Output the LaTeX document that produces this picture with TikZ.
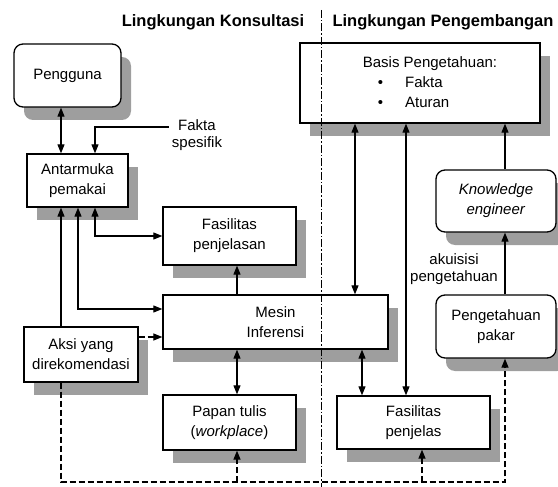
\documentclass[tikz,border=0pt]{standalone}
\usepackage{fontspec}
\setmainfont{Liberation Sans}
\usetikzlibrary{arrows.meta,shadows}

\tikzset{
  kotak/.style={draw, line width=1.3pt, fill=white, align=center, inner sep=0pt,
    font=\fontsize{15}{20}\selectfont,
    drop shadow={shadow xshift=10pt, shadow yshift=-13pt, fill=black!38, opacity=1}},
  bulat/.style={kotak, rounded corners=9pt},
  teks/.style={align=center, inner sep=3pt, font=\fontsize{15}{17}\selectfont},
  judul/.style={font=\bfseries\fontsize{16.5}{19}\selectfont, inner sep=0pt},
  panah/.style={line width=1.1pt, -{Triangle[length=9pt,width=7pt]}},
  panah2/.style={line width=1.1pt, {Triangle[length=9pt,width=7pt]}-{Triangle[length=9pt,width=7pt]}},
  putus/.style={line width=1.2pt, dash pattern=on 6pt off 3pt},
  pemisah/.style={line width=1pt, dash pattern=on 8pt off 2pt on 1.5pt off 2pt}
}

\begin{document}
\begin{tikzpicture}[x=1pt,y=-1pt]
\useasboundingbox (0,0) rectangle (558,487);

\node[judul] (konsul) at (213,22) {Lingkungan Konsultasi};
\node[judul] (kembang) at (443,22) {Lingkungan Pengembangan};

% lingkungan konsultasi
\node[bulat, minimum width=107pt, minimum height=63pt] (pengguna) at (67.5,75.5) {Pengguna};
\node[kotak, minimum width=101pt, minimum height=53pt] (antar) at (77.5,180.5) {Antarmuka\\pemakai};
\node[kotak, minimum width=133pt, minimum height=58pt] (fpj) at (229.5,236) {Fasilitas\\penjelasan};
\node[kotak, minimum width=225pt, minimum height=54pt] (mesin) at (275.5,322) {Mesin\\Inferensi};
\node[kotak, minimum width=114pt, minimum height=55pt] (aksi) at (81,354.5) {Aksi yang\\direkomendasi};
\node[kotak, minimum width=133pt, minimum height=55pt] (papan) at (229.5,422.5) {Papan tulis\\(\textit{workplace})};
\node[teks] (fakta) at (197,135) {Fakta\\spesifik};

% lingkungan pengembangan
\node[kotak, minimum width=240pt, minimum height=80pt] (basis) at (420,83) {};
\node[inner sep=0pt, align=left, font=\fontsize{15}{20}\selectfont] (isi) at (430,82)
  {Basis Pengetahuan:\\\hspace{15pt}\textbullet\hspace{22pt}Fakta\\\hspace{15pt}\textbullet\hspace{22pt}Aturan};
\node[bulat, minimum width=120pt, minimum height=62pt] (ke) at (496,201) {\textit{Knowledge}\\\textit{engineer}};
\node[bulat, minimum width=120pt, minimum height=63pt] (pakar) at (496,326.5) {Pengetahuan\\pakar};
\node[kotak, minimum width=153pt, minimum height=53pt] (fpl) at (413.5,422.5) {Fasilitas\\penjelas};
\node[teks] (akuisisi) at (454,269) {akuisisi\\pengetahuan};

\coordinate (sudut) at (505,482);

\draw[panah2] (pengguna.south -| 61,0) -- (antar.north -| 61,0);
\draw[panah] (fakta.west |- 0,127) -| (antar.north -| 95,0);
\draw[panah2] (antar.south -| 95,0) |- (fpj.west);
\draw[panah2] (antar.south -| 78,0) |- (mesin.west |- 0,309);
\draw[panah] (aksi.north -| 61,0) -- (antar.south -| 61,0);
\draw[panah,putus] (aksi.east |- 0,337) -- (mesin.west |- 0,337);
\draw[panah] (mesin.north -| 237,0) -- (fpj.south -| 237,0);
\draw[panah2] (mesin.south -| 237,0) -- (papan.north -| 237,0);
\draw[panah2] (mesin.north -| 355,0) -- (basis.south -| 355,0);
\draw[panah2] (mesin.south -| 362,0) -- (fpl.north -| 362,0);
\draw[panah2] (basis.south -| 406,0) -- (fpl.north -| 406,0);
\draw[panah] (ke.north -| sudut) -- (basis.south -| sudut);
\draw[panah] (pakar.north -| sudut) -- (ke.south -| sudut);

% jalur putus-putus bawah
\draw[panah,putus] (aksi.south -| 61,0) |- (sudut) -- (pakar.south -| sudut);
\draw[panah,putus] (sudut -| 237,0) -- (papan.south -| 237,0);
\draw[panah,putus] (sudut -| 422,0) -- (fpl.south -| 422,0);

\draw[pemisah] (321,10) -- (321,487);
\end{tikzpicture}
\end{document}
